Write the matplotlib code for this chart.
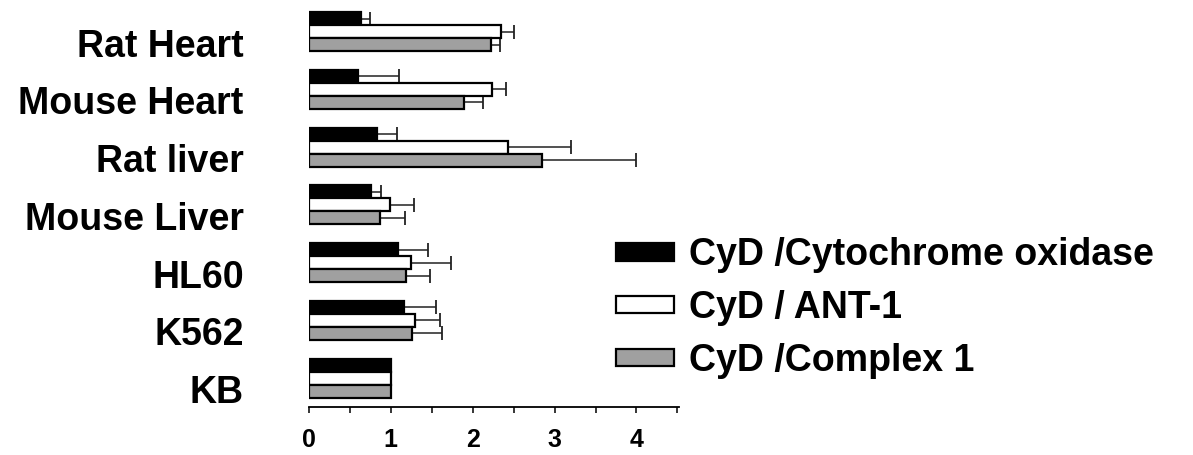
import numpy as np
import matplotlib
matplotlib.use('Agg')
import matplotlib.pyplot as plt
import matplotlib.transforms as mtransforms
from matplotlib.ticker import MultipleLocator

plt.rcParams['font.family'] = ['Liberation Sans', 'DejaVu Sans']
plt.rcParams['font.weight'] = 'bold'

# samples, listed top to bottom
samples = ['Rat Heart', 'Mouse Heart', 'Rat liver', 'Mouse Liver', 'HL60', 'K562', 'KB']

# ratios and (upper) error bars
cox = [0.63, 0.60, 0.83, 0.76, 1.09, 1.16, 1.00]
cox_err = [0.11, 0.50, 0.24, 0.12, 0.36, 0.39, 0.0]
ant = [2.35, 2.24, 2.43, 0.99, 1.24, 1.30, 1.00]
ant_err = [0.15, 0.17, 0.77, 0.29, 0.50, 0.30, 0.0]
cx1 = [2.22, 1.89, 2.85, 0.87, 1.18, 1.26, 1.00]
cx1_err = [0.11, 0.23, 1.14, 0.30, 0.30, 0.37, 0.0]

labels = ['CyD /Cytochrome oxidase', 'CyD / ANT-1', 'CyD /Complex 1']
colors = ['black', 'white', '#a0a0a0']

fig = plt.figure(figsize=(11.93, 4.55), dpi=100)
ax = fig.add_axes([0.259, 0.1055, 0.3102, 0.8945])

n = len(samples)
y = np.arange(n)[::-1].astype(float)
h = 0.225
offsets = [h, 0.0, -h]

handles = []
for vals, errs, col, off, lab in zip([cox, ant, cx1], [cox_err, ant_err, cx1_err],
                                     colors, offsets, labels):
    vals = np.array(vals)
    errs = np.array(errs)
    b = ax.barh(y + off, vals, height=h, color=col, edgecolor='black',
                linewidth=1.6, label=lab, zorder=3)
    handles.append(b)
    m = errs > 0
    ax.errorbar(vals[m], y[m] + off, xerr=[np.zeros(m.sum()), errs[m]],
                fmt='none', ecolor='#222222', elinewidth=1.1, capsize=5,
                capthick=1.3, zorder=2)

ax.set_xlim(0, 4.52)
ax.set_ylim(-0.5, 6.55)

ax.spines['left'].set_visible(False)
ax.spines['top'].set_visible(False)
ax.spines['right'].set_visible(False)
ax.spines['bottom'].set_linewidth(1.3)

ax.xaxis.set_major_locator(MultipleLocator(1))
ax.xaxis.set_minor_locator(MultipleLocator(0.5))
ax.tick_params(axis='x', which='both', direction='out', length=4, width=1.1)
ax.tick_params(axis='x', which='major', labelsize=18, pad=11)
for t in ax.get_xticklabels():
    t.set_fontweight('bold')

ax.set_yticks(y)
ax.set_yticklabels(samples, fontsize=27, fontweight='bold')
ax.tick_params(axis='y', length=0, pad=47)
shift = mtransforms.ScaledTranslation(0, -11 / 100, fig.dpi_scale_trans)
for t in ax.get_yticklabels():
    t.set_transform(t.get_transform() + shift)

fig.legend(handles=handles, labels=labels, loc='center left',
           bbox_to_anchor=(0.488, 0.323), frameon=False,
           prop={'size': 27, 'weight': 'bold'},
           handlelength=1.55, handleheight=0.35, handletextpad=0.4,
           labelspacing=0.45)

fig.savefig('out.png', dpi=100)
